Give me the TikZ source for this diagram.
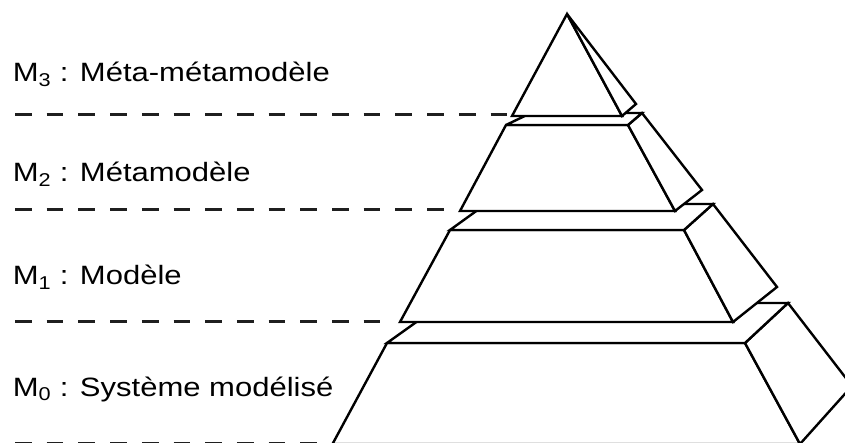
\documentclass[tikz,border=0pt]{standalone}
\usepackage{fontspec}
\setmainfont{Liberation Sans}
\begin{document}
\begin{tikzpicture}[x=1pt,y=-1pt,
  face/.style={draw=black,line width=2.4pt,fill=white,line join=miter,miter limit=4},
  levelline/.style={draw=black!88,line width=3pt,dash pattern=on 16.7pt off 15pt},
  lab/.style={anchor=base west,inner sep=0pt,font=\fontsize{26.5}{30}\selectfont}]
\useasboundingbox (0,0) rectangle (845,443);
% coordinates
\coordinate (TL0) at (387,343);  \coordinate (TR0) at (745,343);
\coordinate (BR0) at (800,444);  \coordinate (BL0) at (332.5,444);
\coordinate (TL0b) at (443,303); \coordinate (TR0b) at (788,303);
\coordinate (BR0b) at (852,386);
\coordinate (TL1) at (450,230);  \coordinate (TR1) at (684,230);
\coordinate (BR1) at (733,322);  \coordinate (BL1) at (400,322);
\coordinate (TL1b) at (486,204); \coordinate (TR1b) at (713,204);
\coordinate (BR1b) at (777,287);
\coordinate (TL2) at (506,125);  \coordinate (TR2) at (628,125);
\coordinate (BR2) at (675,211);  \coordinate (BL2) at (460,211);
\coordinate (TL2b) at (531,113); \coordinate (TR2b) at (642,113);
\coordinate (BR2b) at (702,190);
\coordinate (A) at (567,14);     \coordinate (L3) at (512,116);
\coordinate (R3) at (622,116);   \coordinate (S3) at (636,104);
% dashed level lines
\coordinate (d1a) at (15,115);  \coordinate (d1b) at (507,115);
\coordinate (d2a) at (15,210);  \coordinate (d2b) at (444,210);
\coordinate (d3a) at (15,321);  \coordinate (d3b) at (381,321);
\coordinate (d4a) at (15,443.5);\coordinate (d4b) at (318,443.5);
\begin{scope}
\clip (0,0) rectangle (845,443);
\draw[levelline] (d1a) -- (d1b);
\draw[levelline] (d2a) -- (d2b);
\draw[levelline] (d3a) -- (d3b);
\draw[levelline] (d4a) -- (d4b);
% tier 0
\path[face] (TL0) -- (TR0) -- (BR0) -- (BL0) -- cycle;
\path[face] (TR0) -- (TR0b) -- (BR0b) -- (BR0) -- cycle;
\path[face] (TL0) -- (TL0b) -- (TR0b) -- (TR0) -- cycle;
% tier 1
\path[face] (TL1) -- (TR1) -- (BR1) -- (BL1) -- cycle;
\path[face] (TR1) -- (TR1b) -- (BR1b) -- (BR1) -- cycle;
\path[face] (TL1) -- (TL1b) -- (TR1b) -- (TR1) -- cycle;
% tier 2
\path[face] (TL2) -- (TR2) -- (BR2) -- (BL2) -- cycle;
\path[face] (TR2) -- (TR2b) -- (BR2b) -- (BR2) -- cycle;
\path[face] (TL2) -- (TL2b) -- (TR2b) -- (TR2) -- cycle;
% tier 3
\path[face] (A) -- (L3) -- (R3) -- cycle;
\path[face] (A) -- (S3) -- (R3) -- cycle;
\end{scope}
% labels
\node[lab] (m3) at (12.6,82)    {\scalebox{1.17}[1]{M\textsubscript{3} : Méta-métamodèle}};
\node[lab] (m2) at (12.6,182)   {\scalebox{1.17}[1]{M\textsubscript{2} : Métamodèle}};
\node[lab] (m1) at (12.6,285)   {\scalebox{1.17}[1]{M\textsubscript{1} : Modèle}};
\node[lab] (m0) at (12.6,396.5) {\scalebox{1.17}[1]{M\textsubscript{0} : Système modélisé}};
\end{tikzpicture}
\end{document}
